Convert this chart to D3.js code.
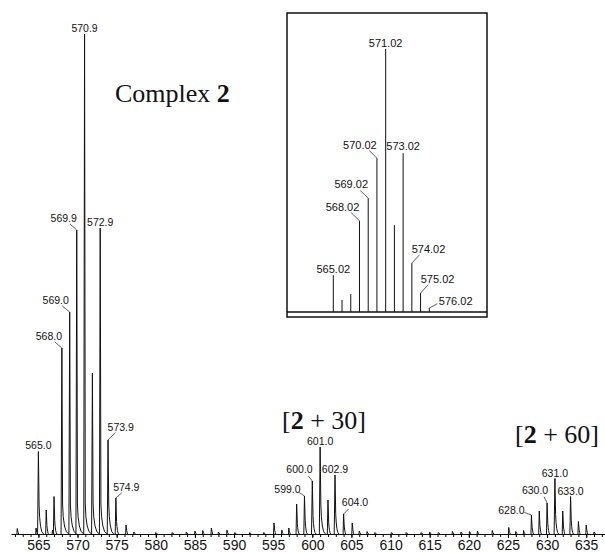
<!DOCTYPE html>
<html>
<head>
<meta charset="utf-8">
<script src="https://cdn.jsdelivr.net/npm/d3@7"></script>
<style>
  body { margin: 0; background: #fff; }
</style>
</head>
<body>
<div class="mainContainer"></div>
<script>
// measured spectrum: m/z and relative intensity (570.9 = 100)
const peakMz = [562.3, 564.7, 565.0, 566.0, 566.8, 567.0, 568.0, 569.0, 569.9, 570.9, 571.9, 572.9, 573.9, 574.9, 576.2, 577.2,
  580.0, 582.1, 583.9, 585.0, 586.0, 587.1, 588.0, 589.1, 590.1, 592.0, 593.8,
  595.1, 596.1, 597.0, 598.0, 599.0, 600.0, 601.0, 602.0, 602.9, 604.0, 605.1, 606.0, 607.0, 608.0,
  610.1, 612.0, 613.9, 615.0, 616.1, 617.9, 619.0, 620.1, 621.1, 623.0,
  625.1, 626.0, 627.0, 628.0, 629.0, 630.0, 631.0, 632.0, 633.0, 634.0, 635.0, 636.0];
const peakInt = [1.1, 1.2, 16.5, 4.8, 0.8, 7.5, 37.2, 44.4, 60.8, 100, 32.2, 61.2, 18.8, 7.2, 1.8, 0.4,
  0.3, 0.3, 0.4, 0.6, 0.7, 1.2, 0.4, 0.8, 0.3, 0.3, 0.3,
  2.2, 0.8, 1.2, 6.0, 7.6, 10.6, 17.4, 6.8, 11.8, 4.0, 2.2, 0.6, 0.5, 0.3,
  0.3, 0.3, 0.3, 0.4, 0.3, 0.5, 0.4, 0.5, 0.6, 0.7,
  1.3, 0.5, 0.7, 3.8, 4.6, 6.2, 11.1, 4.6, 7.5, 2.5, 1.8, 0.4];
const labelMz = [565.0, 568.0, 569.0, 569.9, 570.9, 572.9, 573.9, 574.9,
  599.0, 600.0, 601.0, 602.9, 604.0, 628.0, 630.0, 631.0, 633.0];
const tickValues = [565, 570, 575, 580, 585, 590, 595, 600, 605, 610, 615, 620, 625, 630, 635];

// calculated isotope pattern (inset)
const insetMz = [565.02, 566.02, 567.02, 568.02, 569.02, 570.02, 571.02, 572.02, 573.02, 574.02, 575.02, 576.02];
const insetInt = [14.0, 4.6, 6.8, 34.7, 43.3, 58.5, 100, 33.0, 60.4, 18.6, 7.2, 1.5];
const insetLabelMz = [565.02, 568.02, 569.02, 570.02, 571.02, 573.02, 574.02, 575.02, 576.02];

// label placement relative to peak top: [dx, dy, leader start dx, leader start dy]
const labelPos = {
  '565.0': [0, -3], '568.0': [-13, -8, -7.3, -6.3], '569.0': [-14, -8, -7.4, -6],
  '569.9': [-13, -8, -6.6, -6], '570.9': [0, -2], '572.9': [0, -2.5],
  '573.9': [12.7, -9, 7.4, -7.3], '574.9': [10.4, -7.5, 6, -5.3],
  '599.0': [-17, -3.5, -5.3, -3.4], '600.0': [-12.8, -8.3, -4, -5], '601.0': [0, -2],
  '602.9': [0, -2], '604.0': [11.4, -8, 5, -5], '628.0': [-20, -1, -7, -2.5],
  '630.0': [-12, -8.6, -3, -6.3], '631.0': [0, -2], '633.0': [0, -2]
};
const insetLabelPos = {
  '565.02': [0, -2.5], '568.02': [-17, -9.7, -8.3, -8], '569.02': [-17, -10.3, -8, -7.6],
  '570.02': [-17, -9.6, -7.7, -7.6], '571.02': [0, -2.5], '573.02': [0, -3],
  '574.02': [16.7, -10.3, 7.7, -8.3], '575.02': [17, -10.3, 7.6, -8.4], '576.02': [26.4, -2.6, 8, -4.3]
};

const sans = 'Arial, "Liberation Sans", sans-serif';
const serif = '"Liberation Serif", "Times New Roman", serif';

const svg = d3.select('.mainContainer')
  .append('svg')
  .attr('width', 605)
  .attr('height', 552)
  .style('font-family', sans);

const x = d3.scaleLinear().domain([561.5, 637.4]).range([11, 605]);
const y = d3.scaleLinear().domain([0, 100]).range([534, 34]);

const peaks = peakMz.map((m, i) => ({ m: m, v: peakInt[i] }));

// peak glyph: sharp rise, tailing fall
const peakPath = d => {
  const x0 = x(d.m), yt = y(d.v), yb = y(0), h = yb - yt;
  const w = Math.min(0.8, 0.3 + h * 0.01);
  const t = Math.min(h * 0.35, 30);
  const L = Math.min(7, 1 + h * 0.05);
  const p = d3.path();
  p.moveTo(x0 - w, yb);
  p.lineTo(x0, yt);
  p.lineTo(x0 + 0.7, yb - t);
  p.quadraticCurveTo(x0 + 1.4, yb - 1, x0 + L, yb);
  return p.toString();
};

svg.append('g')
  .selectAll('path')
  .data(peaks)
  .enter()
  .append('path')
  .attr('d', peakPath)
  .attr('fill', 'none')
  .attr('stroke', '#111')
  .attr('stroke-width', 1)
  .attr('stroke-linejoin', 'round');

// axis
const minorAxis = d3.axisBottom(x)
  .tickValues(d3.range(562, 638))
  .tickSize(3)
  .tickSizeOuter(0)
  .tickFormat('');
const majorAxis = d3.axisBottom(x)
  .tickValues(tickValues)
  .tickSize(4)
  .tickSizeOuter(0)
  .tickPadding(2)
  .tickFormat(d3.format('d'));

svg.append('g')
  .attr('transform', 'translate(0,534)')
  .call(minorAxis)
  .call(g => g.select('.domain').attr('stroke', '#111').attr('stroke-width', 1.2));
const xAxisGroup = svg.append('g')
  .attr('transform', 'translate(0,534)')
  .call(majorAxis);
xAxisGroup.select('.domain').remove();
xAxisGroup.selectAll('text')
  .attr('font-size', 14)
  .attr('fill', '#111')
  .style('font-family', sans);

// peak labels
const drawLabels = (group, list, xs, ys, vals, mzs, pos, digits, fs) => {
  list.forEach(m => {
    const i = mzs.indexOf(m);
    const txt = m.toFixed(digits);
    const p = pos[txt];
    const px = xs(m), pt = ys(vals[i]);
    group.append('text')
      .attr('x', px + p[0])
      .attr('y', pt + p[1])
      .attr('text-anchor', 'middle')
      .attr('font-size', fs)
      .attr('fill', '#111')
      .text(txt);
    if (p.length > 2) {
      group.append('line')
        .attr('x1', px + p[2]).attr('y1', pt + p[3])
        .attr('x2', px).attr('y2', pt)
        .attr('stroke', '#333')
        .attr('stroke-width', 0.8);
    }
  });
};
drawLabels(svg.append('g'), labelMz, x, y, peakInt, peakMz, labelPos, 1, 10.5);

// titles
const title = (tx, ty, parts) => {
  const t = svg.append('text')
    .attr('x', tx).attr('y', ty)
    .style('font-family', serif)
    .attr('font-size', 26)
    .attr('fill', '#111');
  parts.forEach(p => t.append('tspan').attr('font-weight', p[1] ? 'bold' : 'normal').text(p[0]));
};
title(115, 102, [['Complex ', 0], ['2', 1]]);
title(282, 429, [['[', 0], ['2', 1], [' + 30]', 0]]);
title(515, 443, [['[', 0], ['2', 1], [' + 60]', 0]]);

// inset: calculated pattern
const inset = svg.append('g');
inset.append('rect')
  .attr('x', 287).attr('y', 13)
  .attr('width', 200).attr('height', 304)
  .attr('fill', 'none')
  .attr('stroke', '#111')
  .attr('stroke-width', 1.5);

const xi = d3.scaleLinear().domain([565.02, 576.02]).range([333.3, 429.3]);
const yi = d3.scaleLinear().domain([0, 100]).range([312, 49]);

inset.append('line')
  .attr('x1', 287).attr('x2', 487)
  .attr('y1', yi(0)).attr('y2', yi(0))
  .attr('stroke', '#111')
  .attr('stroke-width', 1.5);

inset.selectAll('line.stick')
  .data(insetMz)
  .enter()
  .append('line')
  .attr('class', 'stick')
  .attr('x1', d => xi(d)).attr('x2', d => xi(d))
  .attr('y1', yi(0))
  .attr('y2', (d, i) => yi(insetInt[i]))
  .attr('stroke', '#111')
  .attr('stroke-width', 1);

drawLabels(inset, insetLabelMz, xi, yi, insetInt, insetMz, insetLabelPos, 2, 11);
</script>
</body>
</html>
